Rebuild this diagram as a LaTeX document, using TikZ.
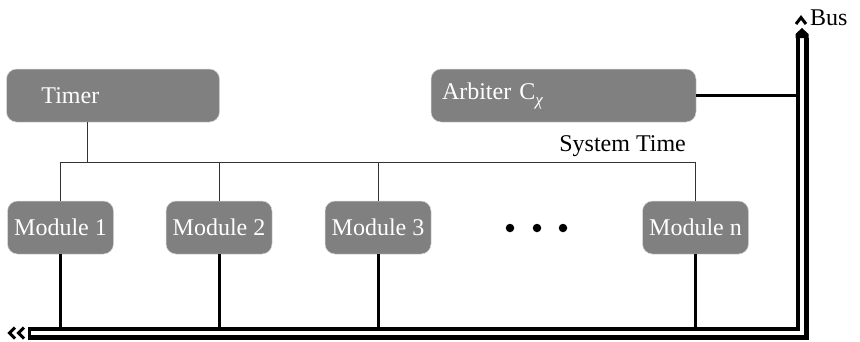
\documentclass[tikz,border=0pt]{standalone}
\usepackage{fontspec}
\setmainfont{Liberation Serif}
\begin{document}
\begin{tikzpicture}[x=1pt,y=-1pt,
  box/.style={draw=black!15, line width=0.5pt, fill=black!50, rounded corners=10pt,
    text=white, font=\fontsize{24}{28}\selectfont, minimum height=53pt, inner sep=0pt},
  modbox/.style={box, minimum width=106pt},
  thin/.style={draw=black!80, line width=1pt},
  thick/.style={draw=black, line width=3pt},
  bus/.style={draw=black, line width=4.5pt, double=white, double distance=4pt},
  chev/.style={draw=black, line width=3pt, line join=miter},
  lbl/.style={font=\fontsize{24}{28}\selectfont, inner sep=0pt}
]
\useasboundingbox (0,0) rectangle (860,341);

% top boxes
\node[box, text width=213pt, align=left] (timer) at (113,95.5) {\hspace*{35pt}Timer};
\node[box, text width=265pt, align=left] (arb) at (563.5,95.5)
  {\hspace*{11pt}Arbiter C\raisebox{-6pt}{\fontsize{17}{17}\selectfont\itshape χ}};

% modules
\node[modbox] (m1) at (60.5,227.5) {Module 1};
\node[modbox] (m2) at (219,227.5) {Module 2};
\node[modbox] (m3) at (378,227.5) {Module 3};
\node[modbox] (mn) at (695.5,227.5) {Module n};

% dots
\foreach \x/\n in {510/d1,537/d2,563/d3}
  \node[circle, fill=black, inner sep=0pt, minimum size=8.5pt] (\n) at (\x,228) {};

% system time line
\coordinate (stL) at (60,162);
\coordinate (stR) at (695.5,162);
\draw[thin] (stL) -- (stR);
\node[lbl, anchor=base east] (stlabel) at (686,151) {System Time};
\draw[thin] (timer.south -| 87,0) -- (87,162);
\foreach \m in {m1,m2,m3,mn}
  \draw[thin] (\m.north) -- (\m.north |- stL);

% bus coordinates
\coordinate (busL) at (31,333);
\coordinate (busC) at (802,333);
\coordinate (busT) at (802,38);

% thick lines to bus
\foreach \m in {m1,m2,m3,mn}
  \draw[thick] (\m.south) -- (\m.south |- busC);
\draw[line width=3.2pt] (arb.east) -- (arb.east -| busC);

% bus
\draw[bus] (busL) -- (busC) -- (busT);
% end caps
\fill[black] (busT) ++(-6.5,0) -- ++(0,-4) -- ++(6.5,-6) -- ++(6.5,6) -- ++(0,4) -- cycle;
\fill[black] (busL) ++(0,-6.5) rectangle ++(-3.5,13);
% arrow chevrons
\draw[chev] (796,24) -- (801,17.5) -- (806,24);
\draw[chev] (15,327.5) -- (9.5,333) -- (15,338.5);
\draw[chev] (24,327.5) -- (18.5,333) -- (24,338.5);

\node[lbl, anchor=base west] (buslabel) at (810,25) {Bus};
\end{tikzpicture}
\end{document}
